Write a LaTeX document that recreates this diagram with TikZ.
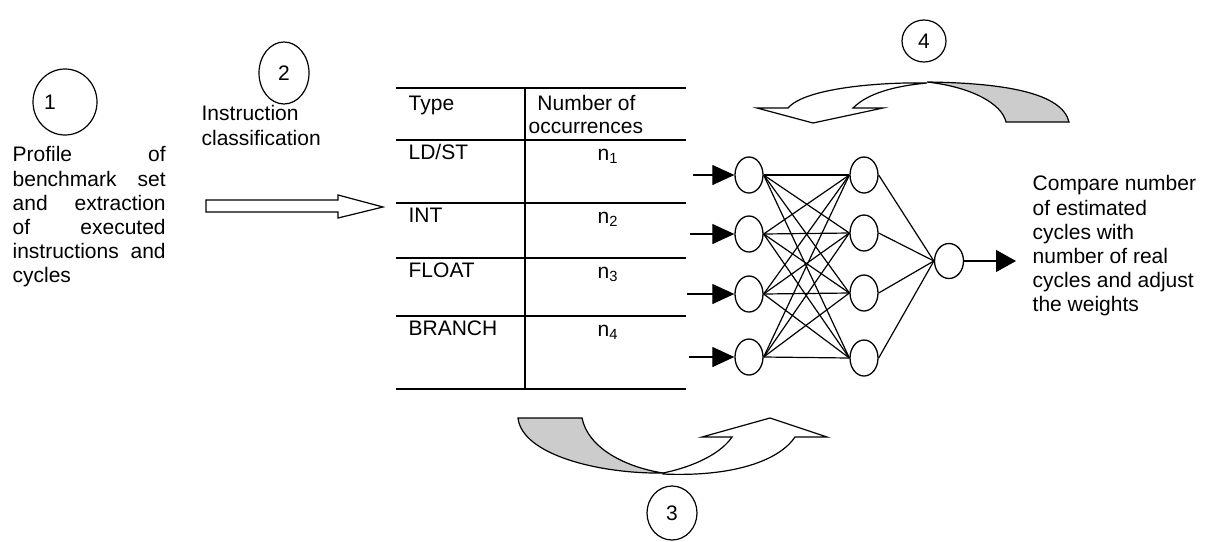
\documentclass[tikz,border=0pt]{standalone}
\usepackage{fontspec}
\setmainfont{Liberation Sans}
\usetikzlibrary{shapes.geometric,arrows.meta}
\hbadness=10000
\begin{document}
\begin{tikzpicture}[x=0.5pt,y=-0.5pt,line width=0.65pt,
  every node/.style={font=\fontsize{10.5}{12.1}\selectfont,inner sep=0pt},
  numcirc/.style={draw,ellipse,line width=0.6pt},
  neuron/.style={draw,ellipse,minimum width=14pt,minimum height=18pt},
  tabtext/.style={anchor=base west},
  tabnum/.style={anchor=base},
  edge/.style={line width=0.6pt},
  inarrow/.style={line width=0.6pt,-{Triangle[length=11pt,width=10pt]}},
  shadefill/.style={fill=black!20,draw=black,line width=0.6pt},
  whitefill/.style={fill=white,draw=black,line width=0.6pt}]
\useasboundingbox (0,0) rectangle (1229,541);

% numbered circles
\node[numcirc,minimum width=32pt,minimum height=33pt] (c1) at (65,102) {};
\node (l1) at (50,102) {1};
\node[numcirc,minimum width=25pt,minimum height=31pt] (c2) at (284,73) {2};
\node[numcirc,minimum width=22pt,minimum height=21pt] (c4) at (924,41) {4};
\node[numcirc,minimum width=25pt,minimum height=27pt] (c3) at (672,513) {3};

% left texts
\node[anchor=north west,text width=76.5pt,align=justify] (t1) at (12,146)
  {\hyphenpenalty=10000 Profile of\linebreak benchmark set\linebreak and extraction\linebreak of executed\linebreak instructions and\linebreak cycles};
\node[anchor=north west,align=left] (t2) at (201,105) {Instruction\\classification};

% hollow block arrow
\draw[line width=0.6pt] (206,200) -- (338,200) -- (338,195) -- (383,207) -- (338,218) -- (338,212) -- (206,212) -- cycle;

% table
\draw (396,88) -- (686,88);
\draw (396,140) -- (686,140);
\draw (396,203) -- (686,203);
\draw (396,258) -- (686,258);
\draw (396,316) -- (686,316);
\draw (396,389) -- (686,389);
\draw (525,88) -- (525,389);
\node[tabtext] (ty) at (408,110) {Type};
\node[tabtext] (nu) at (531,110) {\ Number of};
\node[tabtext] (oc) at (528,133) {occurrences};
\node[tabtext] (r1) at (408,159) {LD/ST};
\node[tabtext] (r2) at (408,222) {INT};
\node[tabtext] (r3) at (408,277) {FLOAT};
\node[tabtext] (r4) at (408,335) {BRANCH};
\node[tabnum] (n1) at (608,160) {n\textsubscript{1}};
\node[tabnum] (n2) at (608,223) {n\textsubscript{2}};
\node[tabnum] (n3) at (608,278) {n\textsubscript{3}};
\node[tabnum] (n4) at (608,336) {n\textsubscript{4}};

% neural network
\node[neuron] (i1) at (749,175) {};
\node[neuron] (i2) at (749,234) {};
\node[neuron] (i3) at (749,294) {};
\node[neuron] (i4) at (749,357) {};
\node[neuron] (h1) at (864,175) {};
\node[neuron] (h2) at (864,233) {};
\node[neuron] (h3) at (864,293) {};
\node[neuron] (h4) at (864,358) {};
\node[neuron,minimum width=14.5pt,minimum height=17.5pt] (o) at (949,261) {};
\foreach \i in {1,...,4}{
  \foreach \j in {1,...,4}{
    \draw[edge] (i\i.east) -- (h\j.west);
  }
  \draw[edge] (h\i.east) -- (o.west);
}
\coordinate (a1) at (693,175);
\coordinate (a2) at (690,234);
\coordinate (a3) at (687,294);
\coordinate (a4) at (689,357);
\draw[inarrow] (a1) -- (i1.west);
\draw[inarrow] (a2) -- (i2.west);
\draw[inarrow] (a3) -- (i3.west);
\draw[inarrow] (a4) -- (i4.west);
\coordinate (out) at (1016,261);
\draw[line width=0.6pt,-{Triangle[length=10pt,width=11pt]}] (o.east) -- (out);

% right text
\node[anchor=north west,align=left] (t3) at (1032,175)
  {Compare number\\of estimated\\cycles with\\number of real\\cycles and adjust\\the weights};

% curved arrow 3 (bottom)
\path[shadefill] (518,418) -- (582,418) .. controls (588,448) and (625,467) .. (663,473)
  .. controls (600,474) and (522,455) .. (518,418) -- cycle;
\path[whitefill] (663,473) .. controls (697,466) and (722,452) .. (732,437) -- (702,437) -- (770,418)
  -- (827,437) -- (795,437) .. controls (778,462) and (730,477) .. (663,474) -- cycle;

% curved arrow 4 (top)
\path[whitefill] (927,83) .. controls (880,82) and (805,88) .. (788,108) -- (757,108) -- (813,123)
  -- (883,108) -- (853,108) .. controls (868,93) and (895,86) .. (927,83) -- cycle;
\path[shadefill] (1006,122) -- (1069,122) .. controls (1062,93) and (1005,83) .. (927,82)
  .. controls (972,87) and (1002,104) .. (1006,122) -- cycle;
\end{tikzpicture}
\end{document}
